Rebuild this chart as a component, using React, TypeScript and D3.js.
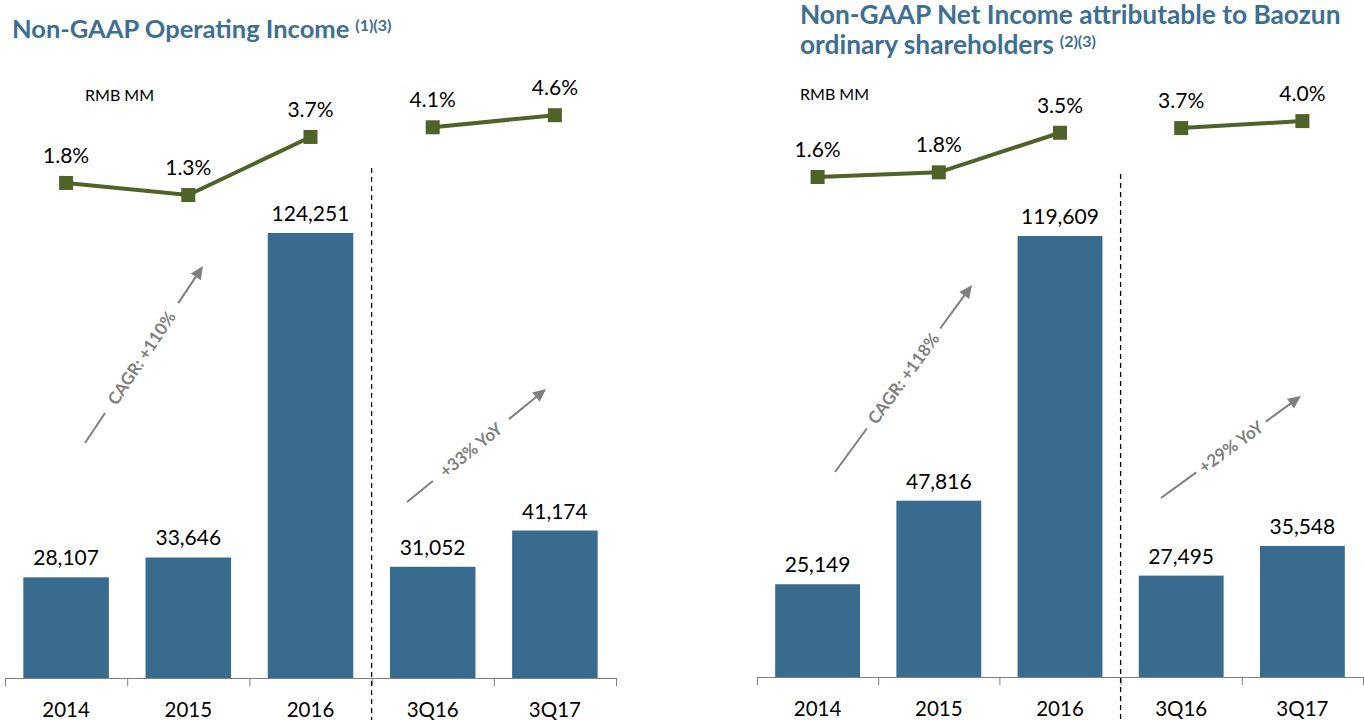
import React from "react";
import * as d3 from "d3";

const categories = ["2014", "2015", "2016", "3Q16", "3Q17"];
const opIncome = [28107, 33646, 124251, 31052, 41174];
const opMargin = [1.8, 1.3, 3.7, 4.1, 4.6];
const netIncome = [25149, 47816, 119609, 27495, 35548];
const netMargin = [1.6, 1.8, 3.5, 3.7, 4.0];

const BAR = "#386b8e";
const TITLE = "#3d6f93";
const LINE = "#4f6228";
const GRAY = "#808080";
const FONT = "Lato, 'Open Sans', sans-serif";

type Ann = { from: [number, number]; to: [number, number]; label: string; t: number; gap: number };

type PanelProps = {
  x0: number;
  x1: number;
  axisY: number;
  values: number[];
  maxVal: number;
  maxTop: number;
  margins: number[];
  pctZeroY: number;
  pctPerUnit: number;
  dashTop: number;
  anns: Ann[];
};

function Panel(p: PanelProps) {
  const x = d3.scaleBand<string>().domain(categories).range([p.x0, p.x1]).paddingInner(0.3).paddingOuter(0.15);
  const y = d3.scaleLinear().domain([0, p.maxVal]).range([p.axisY, p.maxTop]);
  const py = d3.scaleLinear().domain([0, 1]).range([p.pctZeroY, p.pctZeroY - p.pctPerUnit]);
  const step = x.step();
  const bw = x.bandwidth();
  const cx = (c: string) => (x(c) as number) + bw / 2;
  const ticks = categories.map((c) => (x(c) as number) - (step - bw) / 2);
  ticks.push(p.x1);
  const line = d3
    .line<number>()
    .x((_, i) => cx(categories[i]))
    .y((v) => py(v));
  const seg1 = p.margins.slice(0, 3);
  const seg2 = p.margins.slice(3);
  const line2 = d3
    .line<number>()
    .x((_, i) => cx(categories[i + 3]))
    .y((v) => py(v));
  const dashX = ticks[3];
  return (
    <g>
      {p.values.map((v, i) => (
        <rect key={i} x={x(categories[i])} y={y(v)} width={bw} height={p.axisY - y(v)} fill={BAR} />
      ))}
      {p.values.map((v, i) => (
        <text key={"l" + i} x={cx(categories[i])} y={y(v) - 12} textAnchor="middle" fontSize={21} fill="#000">
          {d3.format(",")(v)}
        </text>
      ))}
      <line x1={p.x0} x2={p.x1} y1={p.axisY + 0.5} y2={p.axisY + 0.5} stroke={GRAY} strokeWidth={1} />
      {ticks.map((t, i) => (
        <line key={"t" + i} x1={t + 0.5} x2={t + 0.5} y1={p.axisY} y2={p.axisY + 8} stroke={GRAY} strokeWidth={1} />
      ))}
      {categories.map((c) => (
        <text key={"c" + c} x={cx(c)} y={p.axisY + 39} textAnchor="middle" fontSize={20.5} fill="#000">
          {c}
        </text>
      ))}
      <line x1={dashX} x2={dashX} y1={p.dashTop} y2={720} stroke="#000" strokeWidth={1.3} strokeDasharray="5,4" />
      <path d={line(seg1) || ""} fill="none" stroke={LINE} strokeWidth={4} />
      <path d={line2(seg2) || ""} fill="none" stroke={LINE} strokeWidth={4} />
      {p.margins.map((m, i) => (
        <g key={"m" + i}>
          <rect x={cx(categories[i]) - 7} y={py(m) - 7} width={14} height={14} fill={LINE} />
          <text x={cx(categories[i])} y={py(m) - 20} textAnchor="middle" fontSize={21} fill="#000">
            {m.toFixed(1) + "%"}
          </text>
        </g>
      ))}
      {p.anns.map((a, i) => {
        const dx = a.to[0] - a.from[0];
        const dy = a.to[1] - a.from[1];
        const len = Math.sqrt(dx * dx + dy * dy);
        const ang = (Math.atan2(dy, dx) * 180) / Math.PI;
        const mid = a.t * len;
        return (
          <g key={"a" + i} transform={`translate(${a.from[0]},${a.from[1]}) rotate(${ang})`}>
            <line x1={0} x2={mid - a.gap / 2} y1={0} y2={0} stroke={GRAY} strokeWidth={2} />
            <line x1={mid + a.gap / 2} x2={len - 10} y1={0} y2={0} stroke={GRAY} strokeWidth={2} />
            <path d={`M${len},0 L${len - 13},-6 L${len - 13},6 Z`} fill={GRAY} />
            <text x={mid} y={6} textAnchor="middle" fontSize={17} fontWeight={700} fill={GRAY}>
              {a.label}
            </text>
          </g>
        );
      })}
    </g>
  );
}

export default function App() {
  return (
    <svg width={1364} height={720} style={{ position: "absolute", left: 0, top: 0, fontFamily: FONT }}>
      <rect width={1364} height={720} fill="#fff" />
      <text x={12} y={38} fontSize={25.5} fontWeight={700} fill={TITLE}>
        Non-GAAP Operating Income
        <tspan fontSize={16} dx={6} dy={-7}>(1)(3)</tspan>
      </text>
      <text x={85} y={101} fontSize={16} fill="#000">RMB MM</text>
      <text x={800} y={24} fontSize={26.3} fontWeight={700} fill={TITLE}>
        Non-GAAP Net Income attributable to Baozun
      </text>
      <text x={800} y={54} fontSize={26.3} fontWeight={700} fill={TITLE}>
        ordinary shareholders
        <tspan fontSize={16} dx={6} dy={-7}>(2)(3)</tspan>
      </text>
      <text x={800} y={100} fontSize={16} fill="#000">RMB MM</text>
      <Panel
        x0={5}
        x1={616}
        axisY={678}
        values={opIncome}
        maxVal={124251}
        maxTop={233}
        margins={opMargin}
        pctZeroY={226.5}
        pctPerUnit={24.2}
        dashTop={168}
        anns={[
          { from: [85, 443], to: [203, 266], label: "CAGR: +110%", t: 0.48, gap: 132 },
          { from: [407, 502], to: [546, 389], label: "+33% YoY", t: 0.46, gap: 98 },
        ]}
      />
      <Panel
        x0={757}
        x1={1363}
        axisY={677}
        values={netIncome}
        maxVal={119609}
        maxTop={236}
        margins={netMargin}
        pctZeroY={214.3}
        pctPerUnit={23.3}
        dashTop={174}
        anns={[
          { from: [835, 472], to: [972, 285], label: "CAGR: +118%", t: 0.5, gap: 124 },
          { from: [1161, 498], to: [1301, 396], label: "+29% YoY", t: 0.5, gap: 86 },
        ]}
      />
    </svg>
  );
}
